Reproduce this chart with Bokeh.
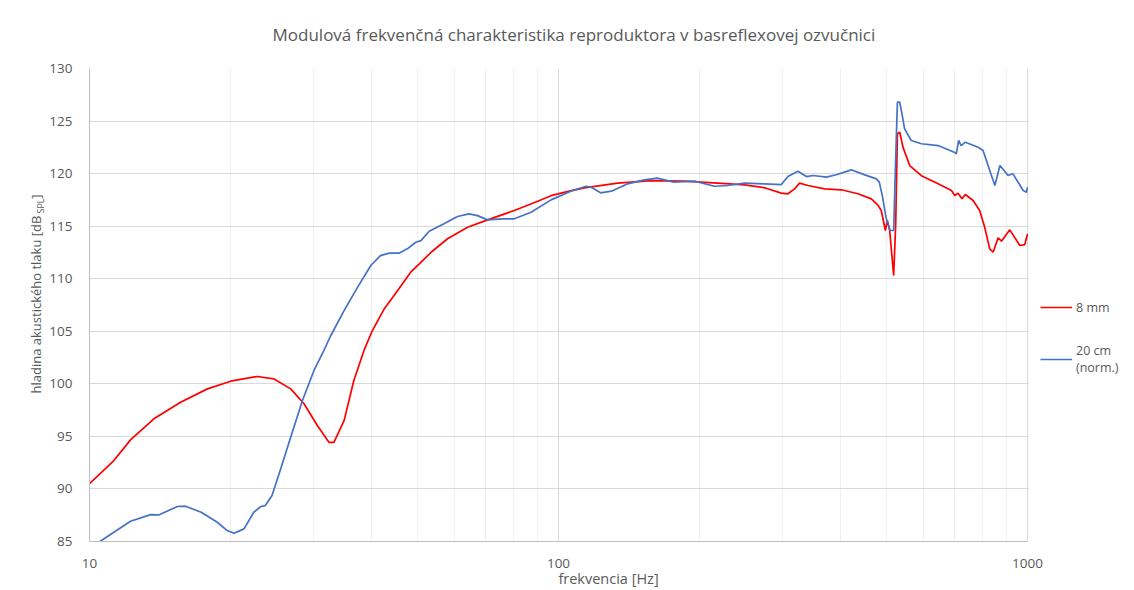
from bokeh.plotting import figure
from bokeh.models import (ColumnDataSource, Range1d, FixedTicker, PrintfTickFormatter,
                          Legend, LegendItem, Title, BoxAnnotation)
from bokeh.embed import file_html
from bokeh.resources import INLINE

# ---- data ----
red_f = [10.0, 11.27, 12.23, 13.72, 15.64, 17.84, 20.0, 22.8, 24.7, 26.85,
         28.67, 30.6, 32.4, 33.2, 34.9, 36.6, 38.5, 40.1, 42.5, 45.4,
         48.4, 50.5, 53.5, 58.0, 64.0, 70.6, 80.5, 90.3, 96.4, 105.4,
         113.5, 133.7, 157.5, 185.6, 218.6, 249.3, 275.0, 298.6, 308.4, 318.7,
         326.6, 340.3, 369.3, 400.9, 435.0, 464.5, 479.8, 487.7, 497.7, 502.6,
         508.3, 518.4, 523.6, 528.0, 534.0, 542.8, 560.8, 593.9, 644.8, 688.4,
         699.5, 711.1, 725.0, 737.0, 765.6, 790.7, 810.5, 830.8, 844.7, 865.7,
         880.0, 916.6, 963.0, 987.0, 1000.0]
red_db = [90.5, 92.7, 94.67, 96.67, 98.25, 99.52, 100.25, 100.7, 100.48, 99.52,
          98.1, 96.03, 94.44, 94.44, 96.5, 100.3, 103.2, 105.07, 107.13, 108.88,
          110.62, 111.42, 112.52, 113.8, 114.9, 115.6, 116.49, 117.37, 117.9, 118.33,
          118.65, 119.09, 119.34, 119.28, 119.09, 118.93, 118.65, 118.14, 118.08, 118.55,
          119.09, 118.87, 118.55, 118.46, 118.08, 117.6, 117.0, 116.49, 114.59, 115.54,
          114.59, 110.3, 115.2, 123.79, 123.94, 122.5, 120.77, 119.8, 119.03, 118.4,
          117.92, 118.14, 117.6, 118.01, 117.44, 116.49, 114.9, 112.84, 112.52, 113.89,
          113.57, 114.65, 113.16, 113.25, 114.27]

blue_f = [10.0, 10.47, 11.27, 12.23, 13.5, 14.05, 15.39, 16.02, 17.3, 18.73,
          19.66, 20.33, 21.35, 22.4, 23.2, 23.7, 24.5, 25.5, 26.85, 28.45,
          30.1, 31.6, 32.7, 34.9, 37.3, 39.8, 41.7, 43.6, 45.7, 47.6,
          49.6, 50.9, 53.0, 57.0, 60.9, 64.4, 67.2, 70.6, 75.6, 80.5,
          87.4, 96.4, 106.2, 114.6, 117.4, 123.0, 129.7, 140.4, 152.4, 162.3,
          176.2, 195.0, 215.0, 229.5, 249.3, 275.0, 298.6, 308.4, 324.0, 337.8,
          349.0, 372.6, 391.0, 421.0, 448.5, 476.1, 483.0, 491.0, 499.0, 509.6,
          518.4, 523.6, 528.0, 534.0, 538.4, 547.0, 565.0, 594.0, 644.8, 697.8,
          705.0, 713.0, 722.0, 737.0, 784.6, 804.0, 830.8, 852.0, 873.4, 909.0,
          931.0, 979.0, 995.0, 1000.0]
blue_db = [84.6, 84.93, 85.88, 86.93, 87.56, 87.53, 88.33, 88.36, 87.78, 86.83,
           86.04, 85.79, 86.2, 87.78, 88.33, 88.42, 89.37, 91.75, 94.92, 98.41,
           101.27, 103.17, 104.6, 106.97, 109.2, 111.26, 112.2, 112.43, 112.43, 112.84,
           113.47, 113.63, 114.52, 115.22, 115.92, 116.17, 116.0, 115.6, 115.7, 115.7,
           116.33, 117.5, 118.33, 118.8, 118.7, 118.17, 118.33, 119.03, 119.41, 119.57,
           119.19, 119.28, 118.8, 118.87, 119.09, 119.03, 118.96, 119.72, 120.23, 119.72,
           119.82, 119.66, 119.89, 120.36, 119.9, 119.5, 119.19, 117.76, 115.85, 114.59,
           114.59, 121.56, 126.8, 126.8, 126.0, 124.26, 123.15, 122.84, 122.67, 122.04,
           121.88, 123.15, 122.67, 122.99, 122.51, 122.2, 120.3, 118.87, 120.77, 119.82,
           119.98, 118.39, 118.23, 118.7]

series_names = ["8 mm", "20 cm\n(norm.)"]
x_ticks = [10, 100, 1000]
x_minor = [20, 30, 40, 50, 60, 70, 80, 90, 200, 300, 400, 500, 600, 700, 800, 900]
y_ticks = [85, 90, 95, 100, 105, 110, 115, 120, 125, 130]
x_min, x_max = 10, 1000
y_min, y_max = 85, 130

title_text = "Modulová frekvenčná charakteristika reproduktora v basreflexovej ozvučnici"
x_label = "frekvencia [Hz]"
y_label_main = "hladina akustického tlaku [dB" + "\u00a0" * 5 + "]"
y_label_sub = "SPL"

FONT = "Open Sans"
GREY = "#595959"
W, H = 1132, 590
FRAME_L, FRAME_R, FRAME_T, FRAME_B = 89, 1027, 68, 541   # where the 10..1000 axis lies
EXTRA_R = W - 5                                           # frame continues for the legend
# extend the log range so that 1000 Hz still falls at FRAME_R
x_ext = 10 ** (1 + 2 * (EXTRA_R - FRAME_L) / (FRAME_R - FRAME_L))

p = figure(width=W, height=H, x_axis_type="log",
           x_range=Range1d(x_min, x_ext), y_range=Range1d(y_min, y_max),
           output_backend="svg", toolbar_location=None,
           min_border_left=FRAME_L, min_border_right=W - EXTRA_R,
           min_border_top=FRAME_T, min_border_bottom=H - FRAME_B)
p.outline_line_color = None

src_red = ColumnDataSource(dict(f=red_f, db=red_db))
src_blue = ColumnDataSource(dict(f=blue_f, db=blue_db))
r1 = p.line("f", "db", source=src_red, line_color="#ff0000", line_width=1.7)
r2 = p.line("f", "db", source=src_blue, line_color="#4472c4", line_width=1.7)

p.xaxis.ticker = FixedTicker(ticks=x_ticks, minor_ticks=x_minor)
p.xaxis.formatter = PrintfTickFormatter(format="%d")
p.xaxis.bounds = (x_min, x_max)
p.yaxis.ticker = FixedTicker(ticks=y_ticks)

for ax in (p.xaxis[0], p.yaxis[0]):
    ax.major_tick_line_color = None
    ax.minor_tick_line_color = None
    ax.axis_line_color = "#bfbfbf"
    ax.major_label_text_font = FONT
    ax.major_label_text_font_size = "13.5px"
    ax.major_label_text_color = GREY
    ax.major_tick_in = 0
    ax.major_tick_out = 0
    ax.minor_tick_in = 0
    ax.minor_tick_out = 0

p.xaxis.major_label_standoff = 17
p.yaxis.major_label_standoff = 17
p.xaxis.axis_label = x_label
p.xaxis.axis_label_text_font = FONT
p.xaxis.axis_label_text_font_size = "14.5px"
p.xaxis.axis_label_text_font_style = "normal"
p.xaxis.axis_label_text_color = GREY
p.xaxis.axis_label_standoff = -2

p.xgrid.grid_line_color = "#d9d9d9"
p.xgrid.minor_grid_line_color = "#efefef"
p.ygrid.grid_line_color = "#d9d9d9"

# white band hiding the horizontal grid right of 1000 Hz (legend area)
p.add_layout(BoxAnnotation(left=x_max * 1.006, fill_color="white", fill_alpha=1.0,
                           line_color=None))

p.title.text = title_text
p.title.align = "left"
p.title.offset = 183
p.title.standoff = 42
p.title.vertical_align = "top"
p.title.text_font = FONT
p.title.text_font_size = "17px"
p.title.text_font_style = "normal"
p.title.text_color = GREY

# rotated y-axis label: subscript column next to the tick labels, main text over it
sub_title = Title(text=y_label_sub, align="left", offset=148 + 180, standoff=0,
                  vertical_align="bottom", text_font=FONT, text_font_size="9px",
                  text_font_style="normal", text_color=GREY)
main_title = Title(text=y_label_main, align="left", offset=148, standoff=-27,
                   vertical_align="bottom", text_font=FONT, text_font_size="13px",
                   text_font_style="normal", text_color=GREY)
p.add_layout(sub_title, "left")
p.add_layout(main_title, "left")

legend = Legend(items=[LegendItem(label=series_names[0], renderers=[r1]),
                       LegendItem(label=series_names[1], renderers=[r2])],
                location=(1040 - FRAME_L, 165), border_line_color=None,
                background_fill_alpha=0, padding=0, margin=0, spacing=26,
                glyph_width=32, glyph_height=18, label_height=18, label_standoff=4,
                label_text_font=FONT, label_text_font_size="12.5px",
                label_text_color=GREY)
p.add_layout(legend)

open("out.html", "w").write(file_html(p, INLINE))
